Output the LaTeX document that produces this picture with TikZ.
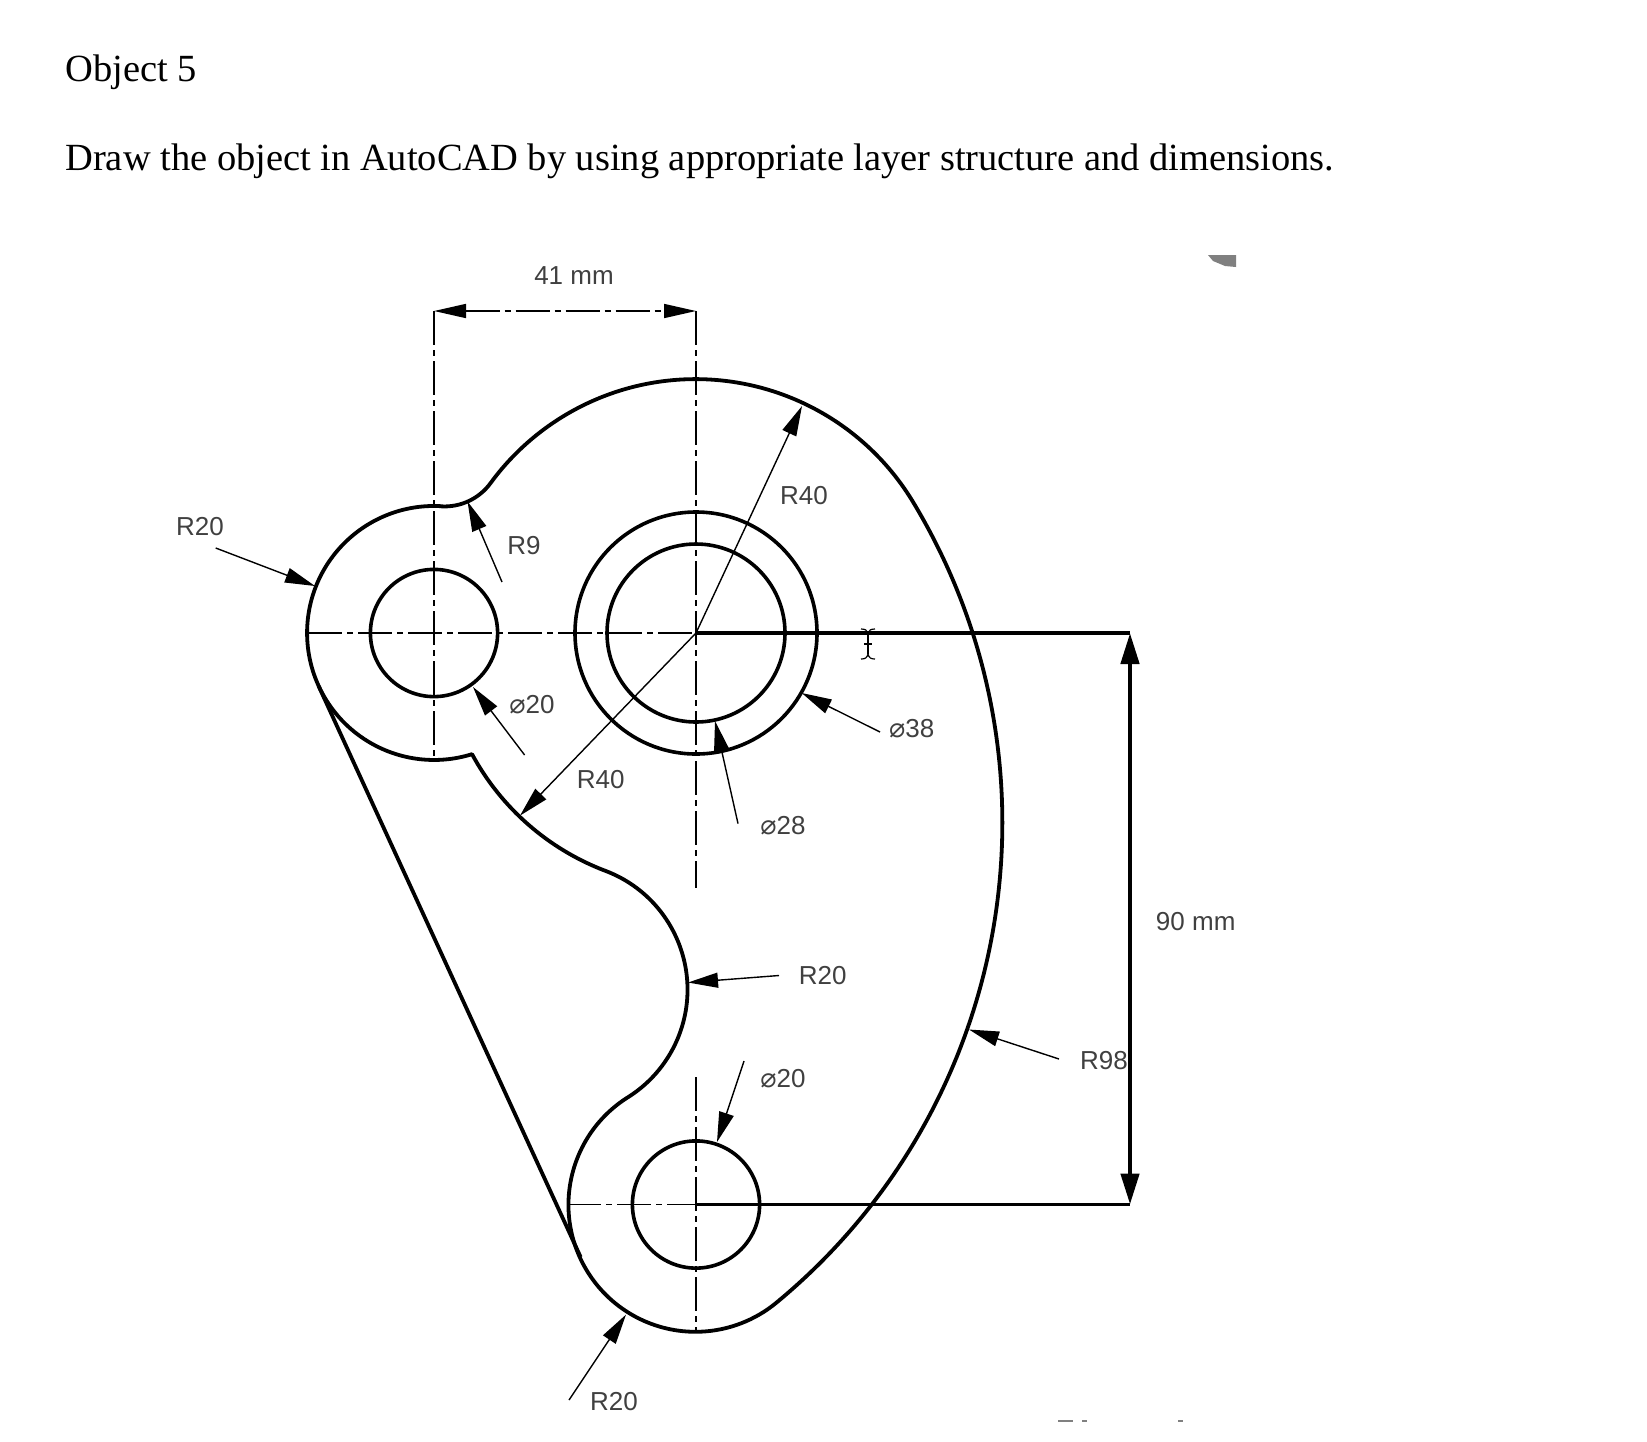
\documentclass[tikz,border=0pt]{standalone}
\usepackage{fontspec}
\usetikzlibrary{arrows.meta}
\setmainfont{Liberation Serif}
\newfontfamily\labelfamily{Liberation Sans}
\newfontfamily\symfamily{DejaVu Sans}
\definecolor{labcol}{HTML}{404040}
\newcommand{\dia}{{\symfamily\fontsize{13.5}{13}\selectfont ⌀}}
\tikzset{
  outline/.style={line width=1.9pt,line join=round,black},
  hole/.style={line width=1.8pt,black},
  center line/.style={line width=0.8pt,black,dash pattern=on 17pt off 2.5pt on 3pt off 2.5pt},
  dim thick/.style={line width=2.3pt,black},
  leader/.style={line width=0.7pt,black,-{Triangle[length=15pt,width=7.5pt]}},
  lab/.style={text=labcol,font=\labelfamily\fontsize{13}{15}\selectfont,inner sep=0pt},
  heading/.style={font=\fontsize{19.23}{23}\selectfont,anchor=base west,inner sep=0pt,text=black},
  smudge/.style={fill=black!50,draw=none},
}
\begin{document}
\begin{tikzpicture}[x=0.5pt,y=-0.5pt]
\useasboundingbox (0,0) rectangle (1647,1441);
\fill[white] (0,0) rectangle (1647,1441);
% centres
\coordinate (main) at (696,633);
\coordinate (left) at (434,633);
\coordinate (bot) at (696,1204.5);
% heading
\node[heading] (title) at (65,81) {Object 5};
\node[heading] (task) at (65,170) {Draw the object in AutoCAD by using appropriate layer structure and dimensions.};
% centre lines
\coordinate (dimL) at (434,311);
\coordinate (dimR) at (696,311);
\coordinate (vLeftEnd) at (434,758);
\coordinate (vMainEnd) at (696,888);
\coordinate (vBotTop) at (696,1077);
\coordinate (vBotEnd) at (696,1330);
\coordinate (hLeftStart) at (308,633);
\coordinate (hBotStart) at (567,1204.5);
\draw[center line] (dimL) -- (vLeftEnd);
\draw[center line] (dimR) -- (vMainEnd);
\draw[center line] (vBotTop) -- (vBotEnd);
\draw[center line] (hLeftStart) -- (main);
\draw[center line] (hBotStart) -- (bot);
\draw[center line,{Triangle[length=16pt,width=7pt]}-{Triangle[length=16pt,width=7pt]}] (dimL) -- (dimR);
% outline
\draw[outline] (441.6,506.2)
  arc[start angle=86.6,end angle=287.4,radius=63.5pt]
  arc[start angle=208.4,end angle=249.25,radius=127pt]
  arc[start angle=69.25,end angle=-57.9,radius=63.5pt]
  arc[start angle=122.1,end angle=309.54,radius=63.5pt]
  arc[start angle=-50.46,end angle=31.08,radius=311pt]
  arc[start angle=31.08,end angle=143.8,radius=127pt]
  arc[start angle=-36.2,end angle=-93.4,radius=28.5pt] -- cycle;
\coordinate (tanA) at (318.6,686);
\coordinate (tanB) at (580.6,1257);
\draw[outline] (tanA) -- (tanB);
% holes
\draw[hole] (left) circle[radius=31.8pt];
\draw[hole] (main) circle[radius=44.5pt];
\draw[hole] (main) circle[radius=60.5pt];
\draw[hole] (bot) circle[radius=31.8pt];
% 90 mm dimension
\coordinate (dTop) at (1130,633);
\coordinate (dBot) at (1130,1204.5);
\draw[dim thick] (main) -- (dTop);
\draw[dim thick,line width=1.9pt] (bot) -- (dBot);
\draw[dim thick,{Triangle[length=15.5pt,width=9pt]}-{Triangle[length=15.5pt,width=9pt]}] (dTop) -- (dBot);
% leaders
\coordinate (a1) at (215.7,548);   \coordinate (b1) at (315,586);
\coordinate (a2) at (502,582);     \coordinate (b2) at (467.5,501.4);
\coordinate (a3) at (524.6,755);   \coordinate (b3) at (473,687);
\coordinate (b4) at (802,406);
\coordinate (b5) at (520,815.6);
\coordinate (a6) at (738,823.6);   \coordinate (b6) at (715,721);
\coordinate (a7) at (880,732);     \coordinate (b7) at (801.7,693);
\coordinate (a8) at (779,975.5);   \coordinate (b8) at (688,982.5);
\coordinate (a9) at (744,1061);    \coordinate (b9) at (717,1142);
\coordinate (a10) at (569,1400);   \coordinate (b10) at (626,1314.6);
\coordinate (a11) at (1059,1059);  \coordinate (b11) at (969,1029.5);
\draw[leader] (a1) -- (b1);
\draw[leader] (a2) -- (b2);
\draw[leader] (a3) -- (b3);
\draw[leader] (main) -- (b4);
\draw[leader] (main) -- (b5);
\draw[leader] (a6) -- (b6);
\draw[leader] (a7) -- (b7);
\draw[leader] (a8) -- (b8);
\draw[leader] (a9) -- (b9);
\draw[leader] (a10) -- (b10);
\draw[leader] (a11) -- (b11);
% labels
\node[lab] (t41) at (574,276) {41 mm};
\node[lab] (tR20a) at (200,527) {R20};
\node[lab] (tR9) at (524,546) {R9};
\node[lab] (tD20a) at (532,705) {\dia20};
\node[lab] (tR40a) at (804,496) {R40};
\node[lab] (tR40b) at (600.7,780) {R40};
\node[lab] (tD28) at (783,826) {\dia28};
\node[lab] (tD38) at (911.7,728.6) {\dia38};
\node[lab] (tR20b) at (822.7,976) {R20};
\node[lab] (tD20b) at (783,1079) {\dia20};
\node[lab] (tR20c) at (614,1402) {R20};
\node[lab] (tR98) at (1104,1061) {R98};
\node[lab] (t90) at (1195.7,922) {90 mm};
% text cursor
\draw[line width=0.6pt,black] (861,629) .. controls (865,629) and (867,630) .. (868,633)
  .. controls (869,630) and (871,629) .. (875,629);
\draw[line width=0.6pt,black] (868,633) -- (868,654);
\draw[line width=0.6pt,black] (864,644) -- (872,644);
\draw[line width=0.6pt,black] (861,659) .. controls (865,659) and (867,658) .. (868,654)
  .. controls (869,658) and (871,659) .. (875,659);
% scan smudges
\fill[smudge] (1208,255) -- (1236,255) -- (1236,267) -- (1225,266) -- (1213,261) -- cycle;
\fill[smudge] (1058,1420) rectangle (1073,1422);
\fill[smudge] (1082,1420) rectangle (1087,1422);
\fill[smudge] (1178,1420) rectangle (1183,1422);
\end{tikzpicture}
\end{document}
